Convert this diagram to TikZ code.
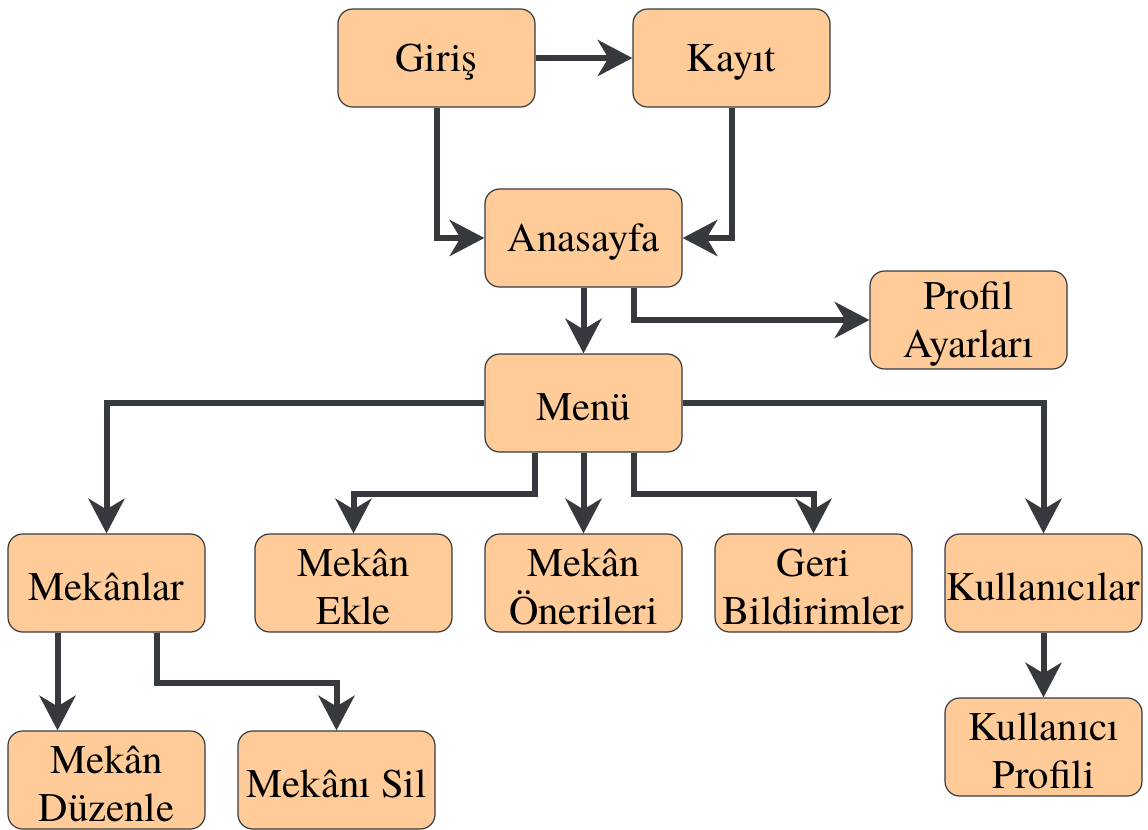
\documentclass[tikz,border=0pt]{standalone}
\usepackage{fontspec}
\setmainfont{texgyretermes-regular.otf}
\usetikzlibrary{arrows.meta,calc}
\definecolor{boxfill}{HTML}{FFCC99}
\definecolor{linec}{HTML}{36393D}
\tikzset{
  box/.style={draw=linec, line width=0.9pt, fill=boxfill, rounded corners=11pt,
    minimum width=147.75pt, minimum height=73.5pt, inner sep=0pt},
  txt/.style={align=center, inner sep=0pt, yshift=-3pt,
    font=\fontsize{30.5}{36}\selectfont, text=black},
  conn/.style={draw=linec, line width=4.5pt,
    -{Stealth[length=26pt, width=27pt, inset=8pt]}}
}
\begin{document}
\begin{tikzpicture}[x=0.75pt, y=-0.75pt]
\useasboundingbox (0,0) rectangle (1148,829);
\node[box, label={[txt]center:Giriş}] (giris) at (436.5,58) {};
\node[box, label={[txt]center:Kayıt}] (kayit) at (731.5,58) {};
\node[box, label={[txt]center:Anasayfa}] (ana) at (583.5,238) {};
\node[box, label={[txt]center:Profil\\Ayarları}] (profil) at (968.5,320) {};
\node[box, label={[txt]center:Menü}] (menu) at (583.5,403) {};
\node[box, label={[txt]center:Mekânlar}] (mekanlar) at (106.5,583) {};
\node[box, label={[txt]center:Mekân\\Ekle}] (ekle) at (353.5,583) {};
\node[box, label={[txt]center:Mekân\\Önerileri}] (oneri) at (583.5,583) {};
\node[box, label={[txt]center:Geri\\Bildirimler}] (geri) at (813.5,583) {};
\node[box, label={[txt]center:Kullanıcılar}] (kull) at (1043.5,583) {};
\node[box, label={[txt]center:Mekân\\Düzenle}] (duzenle) at (106.5,780) {};
\node[box, label={[txt]center:Mekânı Sil}] (sil) at (336.5,780) {};
\node[box, label={[txt]center:Kullanıcı\\Profili}] (kprof) at (1043.5,747) {};

\draw[conn] (giris) -- (kayit);
\draw[conn] (giris.south) |- (ana.west);
\draw[conn] (kayit.south) |- (ana.east);
\draw[conn] (ana) -- (menu);
\coordinate (a1) at ($(ana.south)+(50,0)$);
\draw[conn] (a1) |- (profil.west);
\draw[conn] (menu.west) -| (mekanlar.north);
\coordinate (e1) at ($(menu.south)+(-49,0)$);
\draw[conn] (e1) -- ++(0,41) -| (ekle.north);
\draw[conn] (menu) -- (oneri);
\coordinate (g1) at ($(menu.south)+(50,0)$);
\draw[conn] (g1) -- ++(0,41) -| (geri.north);
\draw[conn] (menu.east) -| (kull.north);
\draw[conn] (kull) -- (kprof);
\coordinate (m1) at ($(mekanlar.south)+(-49,0)$);
\draw[conn] (m1) -- (m1 |- duzenle.north);
\coordinate (m2) at ($(mekanlar.south)+(50,0)$);
\draw[conn] (m2) -- ++(0,50) -| (sil.north);
\end{tikzpicture}
\end{document}
